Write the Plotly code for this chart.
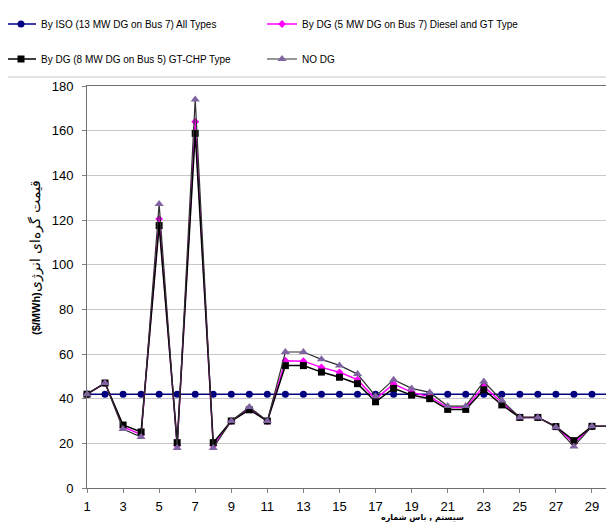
import plotly.graph_objects as go

buses = list(range(1, 31))
iso = [42] * 30
dg5_diesel = [42, 47, 27.3, 24.0, 120.5, 19.0, 164.0, 19.0, 30, 35.5, 30, 57.0, 56.8, 54.0, 51.8, 48.5,
              39.8, 46.6, 42.8, 40.9, 36.0, 36.0, 45.5, 38.3, 31.6, 31.6, 27.5, 20.0, 27.6, 27.6]
dg8_chp = [42, 47, 28.2, 25.1, 117.5, 20.3, 158.8, 20.3, 30, 35.0, 30, 54.8, 54.8, 51.9, 49.6, 46.7,
           38.6, 44.6, 41.6, 40.0, 35.2, 35.2, 44.0, 37.2, 31.6, 31.6, 27.5, 21.2, 27.6, 27.6]
no_dg = [42, 47, 26.4, 22.8, 127.2, 17.9, 174.0, 17.9, 30, 36.3, 30, 60.9, 60.9, 57.6, 54.9, 51.0,
         41.1, 48.5, 44.6, 42.8, 36.7, 36.7, 47.7, 39.2, 31.6, 31.6, 27.2, 18.6, 27.6, 27.6]

names = ["By ISO (13 MW DG on Bus 7) All Types",
         "By DG (5 MW DG on Bus 7) Diesel and GT Type",
         "By DG (8 MW DG on Bus 5) GT-CHP Type",
         "NO DG"]
x_ticks = list(range(1, 30, 2))
y_title_fa = "قیمت گره‌ای انرژی"
x_title_fa = "سیستم , باس شماره"

fig = go.Figure()
fig.add_trace(go.Scatter(x=buses, y=iso, name=names[0], mode="lines+markers",
                         line=dict(color="#000080", width=1.5),
                         marker=dict(symbol="circle", size=7, color="#000080"),
                         legend="legend", showlegend=True, cliponaxis=False))
fig.add_trace(go.Scatter(x=buses, y=dg5_diesel, name=names[1], mode="lines+markers",
                         line=dict(color="#FF00FF", width=1.5),
                         marker=dict(symbol="diamond", size=6, color="#FF00FF"),
                         legend="legend2", showlegend=True, cliponaxis=False))
fig.add_trace(go.Scatter(x=buses, y=dg8_chp, name=names[2], mode="lines+markers",
                         line=dict(color="#000000", width=1.5),
                         marker=dict(symbol="square", size=7, color="#000000"),
                         legend="legend3", showlegend=True, cliponaxis=False))
fig.add_trace(go.Scatter(x=buses, y=no_dg, name=names[3], mode="lines+markers",
                         line=dict(color="#303030", width=1.2),
                         marker=dict(symbol="triangle-up", size=8, color="#8064A2"),
                         legend="legend4", showlegend=True, cliponaxis=False))

# page body has an 8px margin, so the figure is laid out 8px up/left of the screen coordinates
OFF = 8
W, H = 606, 516
ml, mr, mt, mb = 79, 4, 78, 36
pw, ph = W - ml - mr, H - mt - mb

def px(xs):
    return (xs - OFF - ml) / pw

def py(ys):
    return (H - mb - (ys - OFF)) / ph

legend_common = dict(orientation="h", itemwidth=30,
                     font=dict(family="Liberation Sans, Arial", size=10, color="#000"),
                     bgcolor="rgba(0,0,0,0)", xanchor="left", yanchor="middle")

fig.update_layout(
    width=W, height=H,
    margin=dict(l=ml, r=mr, t=mt, b=mb, autoexpand=False),
    paper_bgcolor="white", plot_bgcolor="white",
    font=dict(family="Liberation Sans, Arial", size=13, color="#000"),
    showlegend=True,
    legend=dict(x=px(1), y=py(24), visible=True, **legend_common),
    legend2=dict(x=px(262), y=py(24), **legend_common),
    legend3=dict(x=px(1), y=py(59), **legend_common),
    legend4=dict(x=px(262), y=py(59), **legend_common),
    xaxis=dict(range=[1, 30], tickvals=x_ticks, ticks="outside", ticklen=4, tickcolor="#808080",
               showline=True, linecolor="#707070", linewidth=1, mirror=True,
               showgrid=False, zeroline=False, tickfont=dict(size=13), ticklabelstandoff=2),
    yaxis=dict(range=[0, 180], dtick=20, ticks="outside", ticklen=4, tickcolor="#808080",
               showline=True, linecolor="#707070", linewidth=1, mirror=True,
               showgrid=True, gridcolor="#C8C8C8", gridwidth=1, zeroline=False,
               tickfont=dict(size=13), ticklabelstandoff=6),
    shapes=[dict(type="rect", xref="paper", yref="paper",
                 x0=px(2), x1=px(625), y0=py(77), y1=py(4),
                 line=dict(color="#C8C8C8", width=1), fillcolor="rgba(0,0,0,0)", layer="below")],
    annotations=[
        dict(xref="paper", yref="paper", x=px(35), y=py(258), textangle=-90,
             text="<b>($/MWh)</b>" + "<span style='font-size:14px'>" + y_title_fa + "</span>",
             showarrow=False, font=dict(size=11, family="Liberation Sans, Arial"),
             xanchor="center", yanchor="middle"),
        dict(xref="paper", yref="paper", x=px(422), y=py(518),
             text="<b>" + x_title_fa + "</b>", showarrow=False,
             font=dict(size=8, family="DejaVu Sans"), xanchor="center", yanchor="middle"),
    ],
)

fig.write_html("out.html")
